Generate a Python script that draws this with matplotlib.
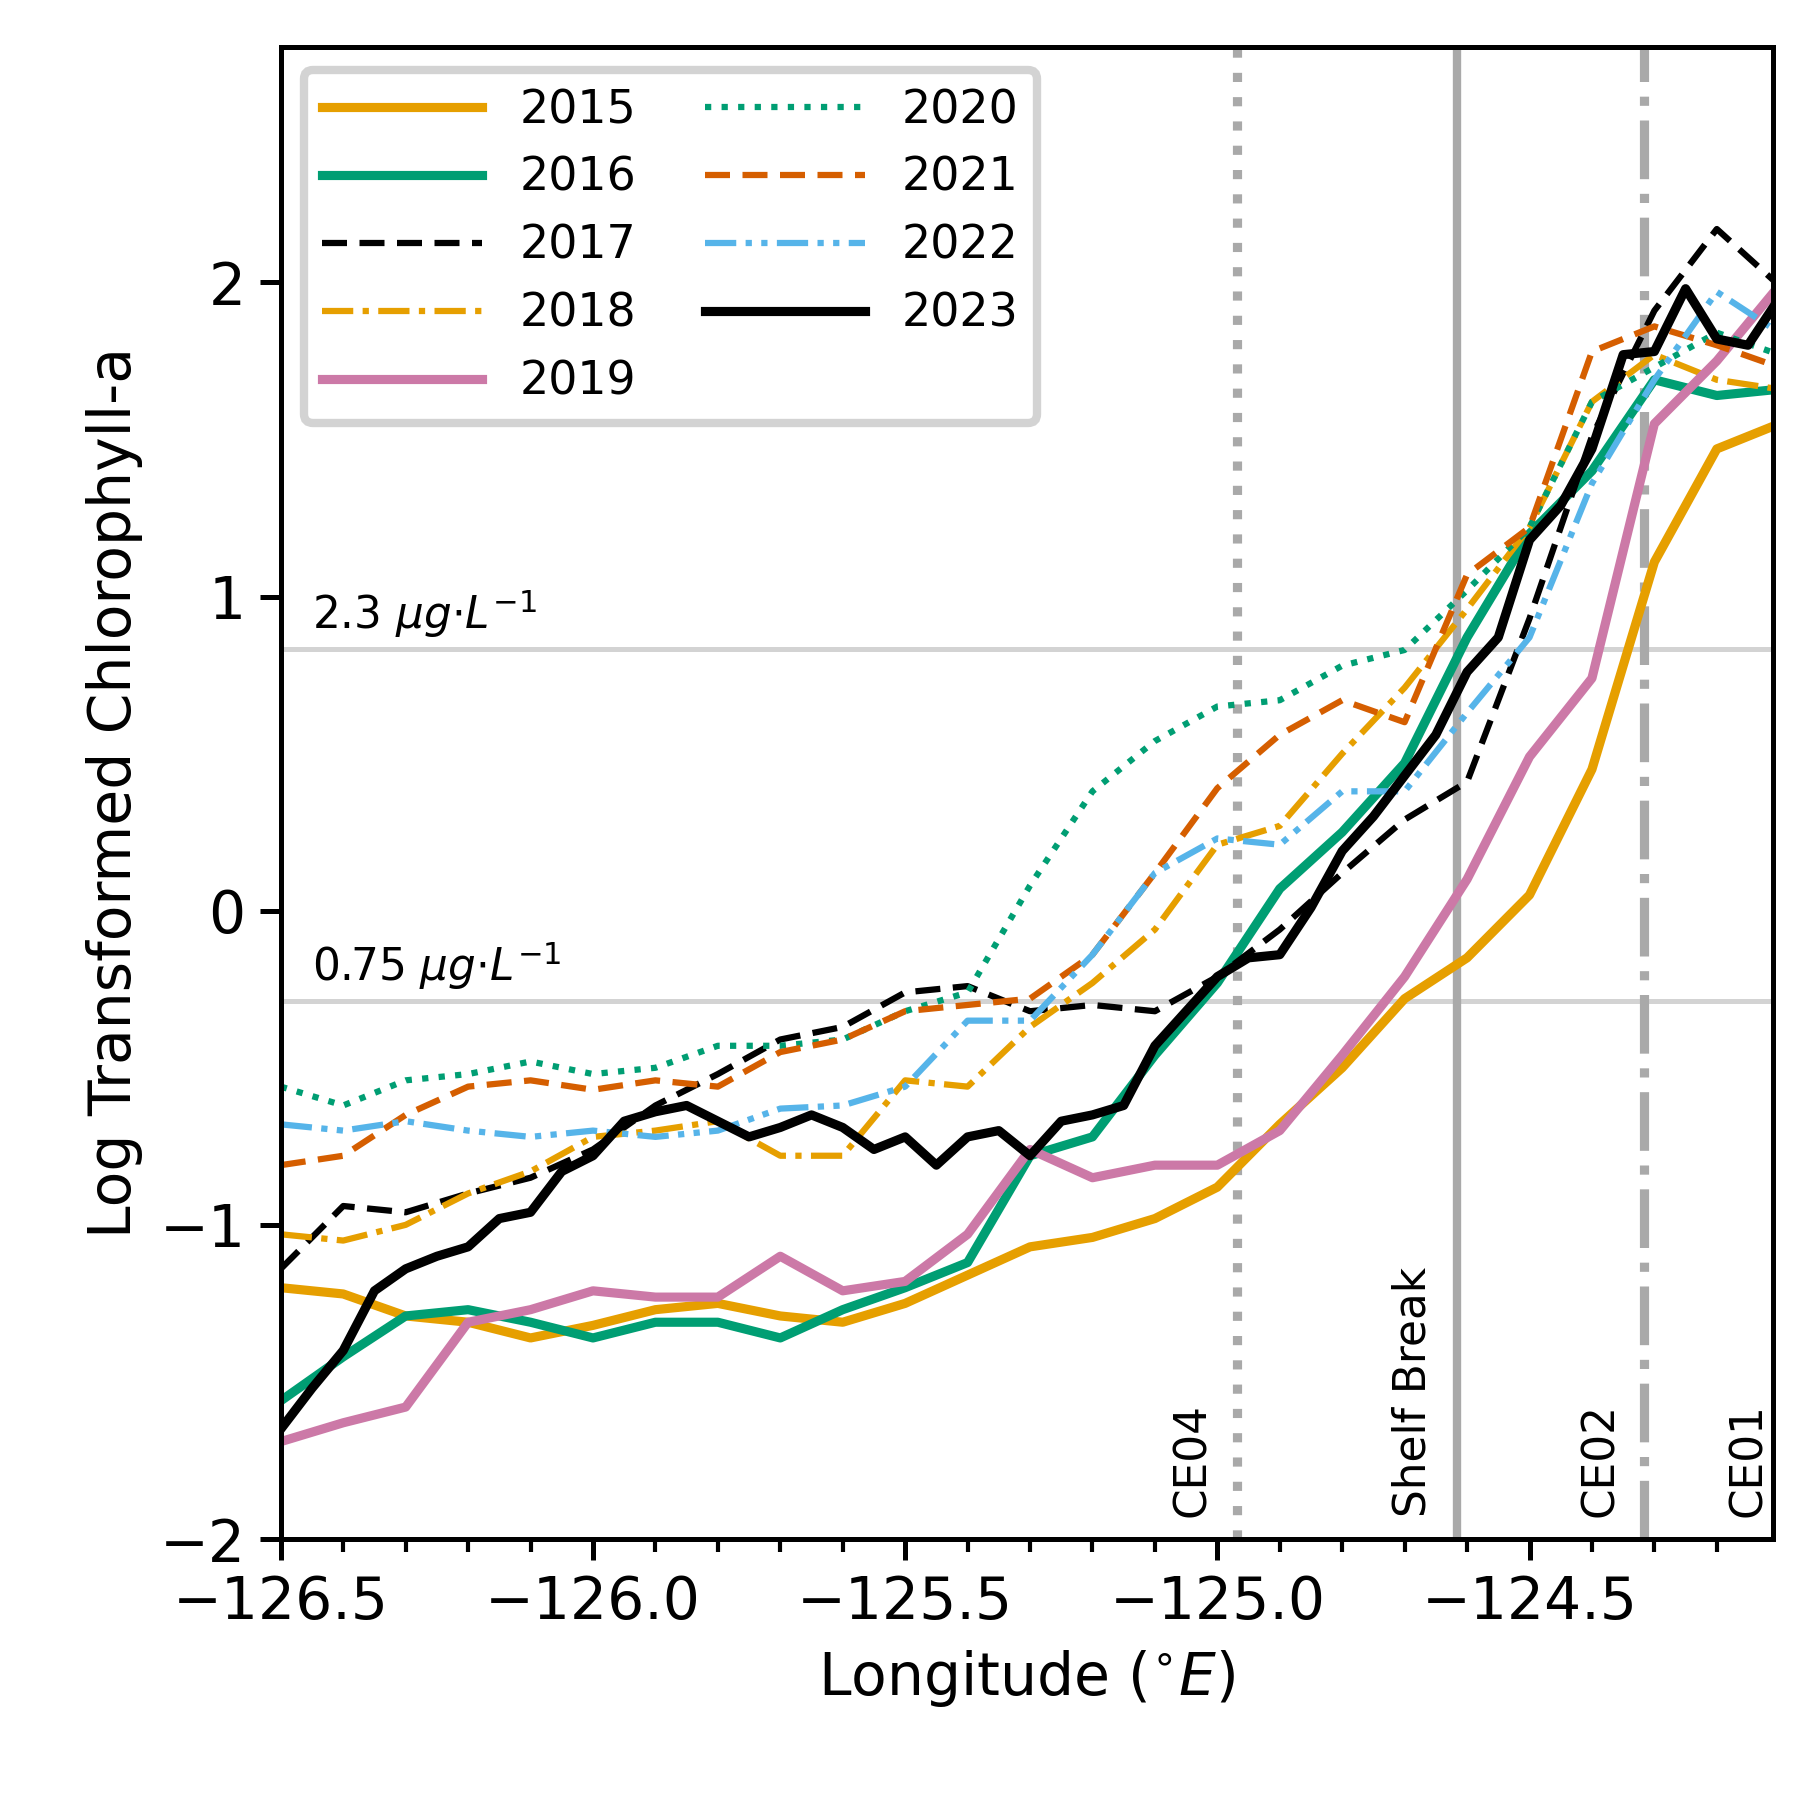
import numpy as np
import matplotlib
matplotlib.use("Agg")
import matplotlib.pyplot as plt
from matplotlib.ticker import MultipleLocator

x49 = np.round(np.arange(-126.5, -124.099, 0.05), 3)
x25 = np.round(np.arange(-126.5, -124.099, 0.1), 3)

y2023 = [-1.65,-1.52,-1.40,-1.21,-1.14,-1.10,-1.07,-0.98,-0.96,-0.83,-0.78,-0.67,-0.64,-0.62,-0.67,-0.72,-0.69,-0.65,-0.69,-0.76,-0.72,-0.81,-0.72,-0.70,-0.78,-0.67,-0.65,-0.62,-0.43,-0.32,-0.21,-0.15,-0.14,0.01,0.19,0.30,0.43,0.56,0.76,0.87,1.18,1.29,1.47,1.77,1.78,1.98,1.82,1.80,1.95]
y2015 = [-1.20,-1.22,-1.29,-1.31,-1.36,-1.32,-1.27,-1.25,-1.29,-1.31,-1.25,-1.16,-1.07,-1.04,-0.98,-0.88,-0.68,-0.50,-0.28,-0.15,0.05,0.45,1.11,1.47,1.55]
y2016 = [-1.56,-1.42,-1.29,-1.27,-1.31,-1.36,-1.31,-1.31,-1.36,-1.27,-1.20,-1.12,-0.78,-0.72,-0.46,-0.23,0.07,0.25,0.47,0.87,1.20,1.40,1.69,1.64,1.66]
y2017 = [-1.14,-0.94,-0.96,-0.90,-0.85,-0.76,-0.62,-0.52,-0.41,-0.37,-0.26,-0.24,-0.32,-0.30,-0.32,-0.21,-0.06,0.12,0.29,0.41,0.93,1.51,1.91,2.17,1.99]
y2018 = [-1.03,-1.05,-1.00,-0.90,-0.83,-0.72,-0.70,-0.67,-0.78,-0.78,-0.54,-0.56,-0.37,-0.23,-0.06,0.21,0.27,0.50,0.71,0.96,1.22,1.62,1.77,1.69,1.66]
y2019 = [-1.69,-1.63,-1.58,-1.31,-1.27,-1.21,-1.23,-1.23,-1.10,-1.21,-1.18,-1.03,-0.76,-0.85,-0.81,-0.81,-0.70,-0.46,-0.21,0.10,0.49,0.74,1.55,1.75,1.99]
y2020 = [-0.56,-0.62,-0.54,-0.52,-0.48,-0.52,-0.50,-0.43,-0.43,-0.41,-0.32,-0.26,0.08,0.38,0.54,0.65,0.67,0.78,0.83,1.02,1.22,1.62,1.73,1.84,1.77]
y2021 = [-0.81,-0.78,-0.65,-0.56,-0.54,-0.57,-0.54,-0.56,-0.45,-0.41,-0.32,-0.30,-0.28,-0.14,0.12,0.39,0.56,0.67,0.60,1.07,1.22,1.78,1.86,1.80,1.73]
y2022 = [-0.68,-0.70,-0.67,-0.70,-0.72,-0.70,-0.72,-0.70,-0.63,-0.62,-0.56,-0.35,-0.35,-0.14,0.12,0.23,0.21,0.38,0.38,0.63,0.87,1.36,1.69,1.97,1.84]

fig = plt.figure(figsize=(6, 6), dpi=300)
ax = fig.add_axes([0.156, 0.145, 0.829, 0.829])

ax.axhline(np.log(2.3), color='lightgray', lw=1.2, zorder=0)
ax.axhline(np.log(0.75), color='lightgray', lw=1.2, zorder=0)
ax.axvline(-124.969, color='darkgray', lw=2.2, ls=':', zorder=0)
ax.axvline(-124.616, color='darkgray', lw=2.0, ls='-', zorder=0)
ax.axvline(-124.316, color='darkgray', lw=2.2, ls='-.', zorder=0)

O, G, R, P, B = '#E69F00', '#009E73', '#D55E00', '#CC79A7', '#56B4E9'
ax.plot(x25, y2015, color=O, lw=2.2, label='2015')
ax.plot(x25, y2016, color=G, lw=2.2, label='2016')
ax.plot(x25, y2017, color='black', lw=1.5, ls=(0, (4, 2)), label='2017')
ax.plot(x25, y2018, color=O, lw=1.5, ls=(0, (5, 1.5, 1, 1.5)), label='2018')
ax.plot(x25, y2019, color=P, lw=2.2, label='2019')
ax.plot(x25, y2020, color=G, lw=1.5, ls=':', label='2020')
ax.plot(x25, y2021, color=R, lw=1.5, ls=(0, (4, 2)), label='2021')
ax.plot(x25, y2022, color=B, lw=1.5, ls=(0, (5, 1.5, 1, 1.5, 1, 1.5)), label='2022')
ax.plot(x49, y2023, color='black', lw=2.2, label='2023')

ax.set_xlim(-126.5, -124.11)
ax.set_ylim(-2, 2.75)
ax.xaxis.set_major_locator(MultipleLocator(0.5))
ax.xaxis.set_minor_locator(MultipleLocator(0.1))
ax.yaxis.set_major_locator(MultipleLocator(1))
ax.tick_params(labelsize=14, width=1.2, length=5)
ax.tick_params(which='minor', width=1, length=3)
for s in ax.spines.values():
    s.set_linewidth(1.2)
ax.set_xlabel(r'Longitude ($^{\circ}E$)', fontsize=14)
ax.set_ylabel('Log Transformed Chlorophyll-a', fontsize=14)

ax.text(-126.45, np.log(2.3) + 0.03, r'2.3 $\mu g{\cdot}L^{-1}$', fontsize=10.5, va='bottom')
ax.text(-126.45, np.log(0.75) + 0.03, r'0.75 $\mu g{\cdot}L^{-1}$', fontsize=10.5, va='bottom')
for xv, t in [(-125.005, 'CE04'), (-124.652, 'Shelf Break'), (-124.352, 'CE02'), (-124.115, 'CE01')]:
    ax.text(xv, -1.93, t, rotation=90, fontsize=10.5, ha='right', va='bottom')

leg = ax.legend(ncol=2, loc='upper left', fontsize=11, handlelength=3.5, columnspacing=1.5,
                framealpha=1, edgecolor='lightgray', fancybox=True)
leg.get_frame().set_linewidth(2)

fig.savefig('out.png', dpi=300)
